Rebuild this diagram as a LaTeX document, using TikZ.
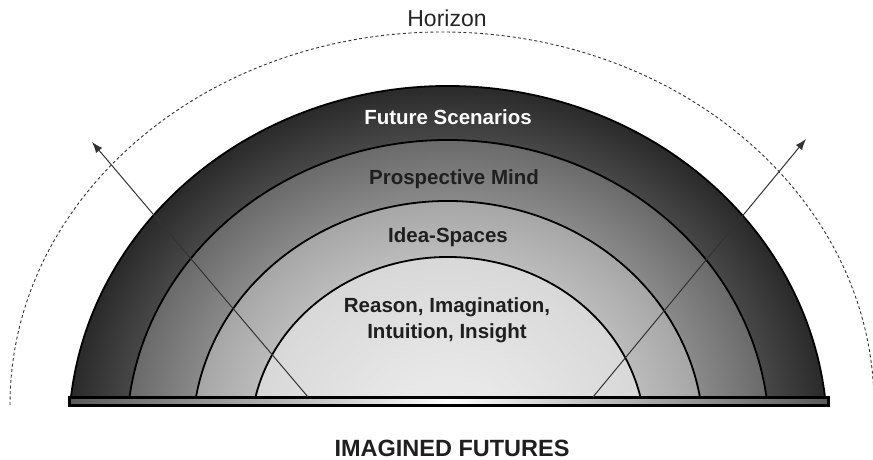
\documentclass[tikz,border=0pt]{standalone}
\usepackage{fontspec}
\setmainfont{Liberation Sans}
\usetikzlibrary{arrows.meta}
\definecolor{caE}{HTML}{2A2A2A}\definecolor{caM}{HTML}{484848}
\definecolor{cbE}{HTML}{6A6A6A}\definecolor{cbM}{HTML}{8A8A8A}
\definecolor{ccE}{HTML}{A6A6A6}\definecolor{ccM}{HTML}{BCBCBC}
\definecolor{cdE}{HTML}{D8D8D8}\definecolor{cdM}{HTML}{E8E8E8}
\pgfdeclareradialshading{shA}{\pgfpoint{0bp}{0bp}}{color(0bp)=(caM); color(21.1bp)=(caM); color(25bp)=(caE); color(50bp)=(caE)}
\pgfdeclareradialshading{shB}{\pgfpoint{0bp}{0bp}}{color(0bp)=(cbM); color(19.8bp)=(cbM); color(25bp)=(cbE); color(50bp)=(cbE)}
\pgfdeclareradialshading{shC}{\pgfpoint{0bp}{0bp}}{color(0bp)=(ccM); color(19bp)=(ccM); color(25bp)=(ccE); color(50bp)=(ccE)}
\pgfdeclareradialshading{shD}{\pgfpoint{0bp}{0bp}}{color(0bp)=(cdM); color(8bp)=(cdM); color(25bp)=(cdE); color(50bp)=(cdE)}
\begin{document}
\begin{tikzpicture}[x=1pt,y=1pt,
  archline/.style={draw=black,line width=1.8pt},
  lbl/.style={font=\fontsize{20.5}{26}\selectfont\bfseries,align=center,inner sep=0pt,anchor=base},
  outarrow/.style={draw=black!80,line width=1pt,-{Latex[length=11pt,width=8pt]}},
  horizonline/.style={draw=black!80,line width=0.9pt,dash pattern=on 3pt off 2.5pt}]
\useasboundingbox (0,0) rectangle (873,460);
\clip (0,0) rectangle (873,460);
% horizon
\coordinate (hz0) at (10,55);
\draw[horizonline] (hz0) arc[start angle=180,end angle=0,x radius=432pt,y radius=373pt];
% arches
\coordinate (ctr) at (448,24);
\coordinate (a1) at (70.96,63);
\coordinate (a2) at (129.5,63);
\coordinate (a3) at (196.0,63);
\coordinate (a4) at (255.5,63);
\begin{scope}
  \clip (a1) arc[start angle=173.602,end angle=6.398,x radius=379.4pt,y radius=350pt] -- cycle;
  \shade[shading=shA] (ctr) ellipse[x radius=379.4pt,y radius=350pt];
\end{scope}
\begin{scope}
  \clip (a2) arc[start angle=172.429,end angle=7.571,x radius=321.3pt,y radius=296pt] -- cycle;
  \shade[shading=shB] (ctr) ellipse[x radius=321.3pt,y radius=296pt];
\end{scope}
\begin{scope}
  \clip (a3) arc[start angle=170.447,end angle=9.553,x radius=255.5pt,y radius=235pt] -- cycle;
  \shade[shading=shC] (ctr) ellipse[x radius=255.5pt,y radius=235pt];
\end{scope}
\begin{scope}
  \clip (a4) arc[start angle=167.416,end angle=12.584,x radius=197.2pt,y radius=179pt] -- cycle;
  \shade[shading=shD] (ctr) ellipse[x radius=197.2pt,y radius=179pt];
\end{scope}
\draw[archline] (a1) arc[start angle=173.602,end angle=6.398,x radius=379.4pt,y radius=350pt];
\draw[archline] (a2) arc[start angle=172.429,end angle=7.571,x radius=321.3pt,y radius=296pt];
\draw[archline] (a3) arc[start angle=170.447,end angle=9.553,x radius=255.5pt,y radius=235pt];
\draw[archline] (a4) arc[start angle=167.416,end angle=12.584,x radius=197.2pt,y radius=179pt];
% base bar
\path[draw=black,line width=3pt,left color=black!65,right color=black!65,middle color=white]
  (69.5,54.5) rectangle (828.5,62.5);
% arrows
\coordinate (la0) at (308,63);
\coordinate (la1) at (92,318);
\coordinate (ra0) at (593,63);
\coordinate (ra1) at (806,321);
\draw[outarrow] (la0) -- (la1);
\draw[outarrow] (ra0) -- (ra1);
% labels
\node[font=\fontsize{23}{26}\selectfont,text=black!85,inner sep=0pt,anchor=base] (hzl) at (447,433.3) {Horizon};
\node[lbl,text=white] (fs) at (448,335.7) {Future Scenarios};
\node[lbl,text=black!88] (pm) at (454,275.7) {Prospective Mind};
\node[lbl,text=black!88] (is) at (448,217.5) {Idea-Spaces};
\node[lbl,text=black!88] (ri) at (447,121) {Reason, Imagination,\\Intuition, Insight};
\node[font=\fontsize{23.5}{26}\selectfont\bfseries,text=black!88,inner sep=0pt,anchor=base] (imf) at (452,3.3) {IMAGINED FUTURES};
\end{tikzpicture}
\end{document}
